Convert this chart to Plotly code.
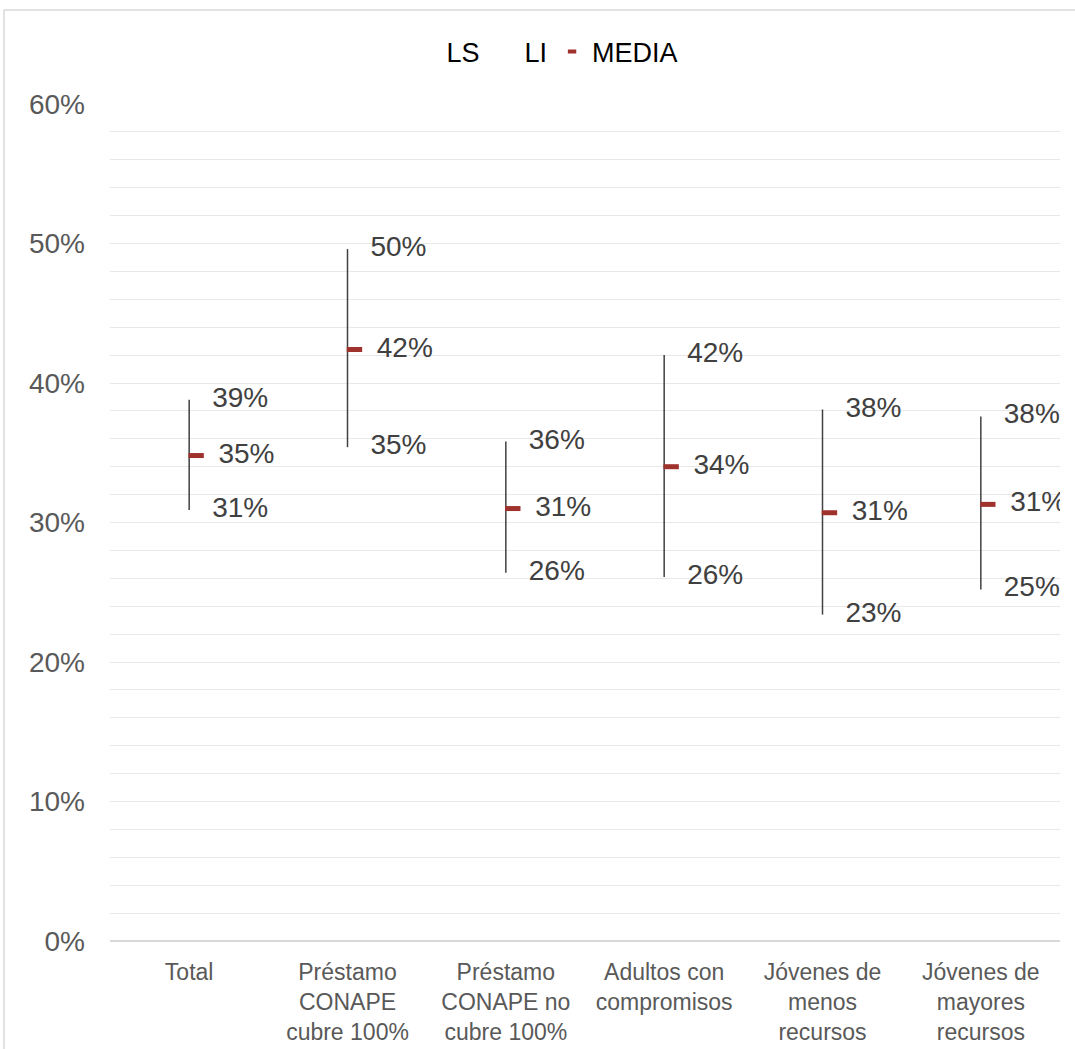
import plotly.graph_objects as go

categories = ["Total", "Préstamo<br>CONAPE<br>cubre 100%", "Préstamo<br>CONAPE no<br>cubre 100%",
              "Adultos con<br>compromisos", "Jóvenes de<br>menos<br>recursos", "Jóvenes de<br>mayores<br>recursos"]
ls_values = [0.388, 0.496, 0.358, 0.420, 0.381, 0.376]
li_values = [0.309, 0.354, 0.264, 0.261, 0.234, 0.252]
media_values = [0.348, 0.424, 0.310, 0.340, 0.307, 0.313]
y_ticks = [0, 0.1, 0.2, 0.3, 0.4, 0.5, 0.6]

FONT = "Liberation Sans, Arial, sans-serif"
RED = "#A0322E"
idx = list(range(len(categories)))

# high-low line coordinates built from the data arrays
hl_x, hl_y = [], []
for i, hi, lo in zip(idx, ls_values, li_values):
    hl_x += [i, i, None]
    hl_y += [hi, lo, None]

LABEL_OFF = 0.145
MEDIA_OFF = 0.044
MEDIA_LABEL_OFF = 0.185

fig = go.Figure()
# legend-only entries
fig.add_trace(go.Scatter(x=[None], y=[None], mode="lines", name="LS",
                         line=dict(color="rgba(0,0,0,0)", width=1)))
fig.add_trace(go.Scatter(x=[None], y=[None], mode="lines", name="LI",
                         line=dict(color="rgba(0,0,0,0)", width=1)))
fig.add_trace(go.Scatter(x=[None], y=[None], mode="markers", name="MEDIA",
                         marker=dict(symbol="line-ew", size=6, color=RED,
                                     line=dict(color=RED, width=4))))
# high-low lines
fig.add_trace(go.Scatter(x=hl_x, y=hl_y, mode="lines", showlegend=False,
                         line=dict(color="#404040", width=1.5), hoverinfo="skip"))
# LS labels
fig.add_trace(go.Scatter(x=[i + LABEL_OFF for i in idx], y=ls_values, mode="text",
                         text=[f"{v:.0%}" for v in ls_values], textposition="middle right",
                         textfont=dict(family=FONT, size=28, color="#404040"), showlegend=False))
# LI labels
fig.add_trace(go.Scatter(x=[i + LABEL_OFF for i in idx], y=li_values, mode="text",
                         text=[f"{v:.0%}" for v in li_values], textposition="middle right",
                         textfont=dict(family=FONT, size=28, color="#404040"), showlegend=False))
# MEDIA markers
fig.add_trace(go.Scatter(x=[i + MEDIA_OFF for i in idx], y=media_values, mode="markers", name="MEDIA",
                         showlegend=False,
                         marker=dict(symbol="line-ew", size=11, color=RED,
                                     line=dict(color=RED, width=5))))
# MEDIA labels
fig.add_trace(go.Scatter(x=[i + MEDIA_LABEL_OFF for i in idx], y=media_values, mode="text",
                         text=[f"{v:.0%}" for v in media_values], textposition="middle right",
                         textfont=dict(family=FONT, size=28, color="#404040"), showlegend=False))

L, R, T, B = 110, 15, 104, 108
W, H = 1075, 1049
pw, ph = W - L - R, H - T - B

fig.update_layout(
    width=W, height=H,
    margin=dict(l=L, r=R, t=T, b=B, autoexpand=False),
    paper_bgcolor="white", plot_bgcolor="white",
    font=dict(family=FONT),
    showlegend=True,
    legend=dict(orientation="h", x=0.5 - 40 / pw, xanchor="center", y=(941 - 52) / ph, yanchor="middle",
                font=dict(family=FONT, size=27, color="#000000"), itemwidth=30,
                bgcolor="rgba(0,0,0,0)"),
    xaxis=dict(range=[-0.5, len(categories) - 0.5], tickvals=idx, ticktext=categories,
               showgrid=False, zeroline=False, showline=False, ticks="", automargin=False,
               tickfont=dict(family=FONT, size=23, color="#595959"), ticklabelstandoff=15),
    yaxis=dict(range=[0, 0.6], tickvals=y_ticks, tickformat=".0%", automargin=False,
               showgrid=True, gridcolor="#E8E8E8", gridwidth=1.3,
               minor=dict(dtick=0.02, showgrid=True, gridcolor="#E8E8E8", gridwidth=1.3),
               zeroline=True, zerolinecolor="#D9D9D9", zerolinewidth=1.5,
               showline=False, ticks="",
               tickfont=dict(family=FONT, size=28, color="#595959"), ticklabelstandoff=24),
    shapes=[dict(type="rect", xref="paper", yref="paper",
                 x0=(4 - L) / pw, x1=1.2, y0=-0.3, y1=(941 - 10) / ph,
                 line=dict(color="#D9D9D9", width=1.5), fillcolor="rgba(0,0,0,0)", layer="below")],
)

fig.write_html("out.html", config={"displayModeBar": False},
               post_script="document.body.style.margin='0';")
